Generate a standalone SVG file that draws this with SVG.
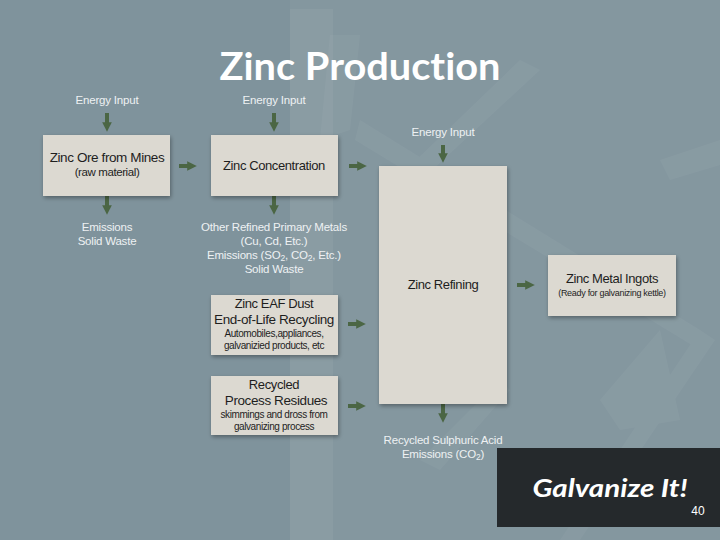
<svg xmlns="http://www.w3.org/2000/svg" width="720" height="540" viewBox="0 0 720 540">
<style>
.box{fill:#dcd9d1;filter:url(#sh)}
.bt{font-family:"Liberation Sans",Arial,sans-serif;fill:#1e1e1e;text-anchor:middle;letter-spacing:-0.4px}
.lb{font-family:"Liberation Sans",Arial,sans-serif;fill:#eef1f3;text-anchor:middle;font-size:11.5px;letter-spacing:-0.2px}
.ar{stroke:#4b6644;stroke-width:4;fill:none;marker-end:url(#ah)}
</style>
<defs>
<marker id="ah" viewBox="0 0 10 10" refX="5" refY="5" markerWidth="2.4" markerHeight="2.4" orient="auto" markerUnits="strokeWidth">
<path d="M0,0 L10,5 L0,10 z" fill="#4b6644"/>
</marker>
<filter id="sh" x="-10%" y="-10%" width="130%" height="130%">
<feGaussianBlur in="SourceAlpha" stdDeviation="2"/>
<feOffset dx="1" dy="2" result="b"/>
<feComponentTransfer><feFuncA type="linear" slope="0.35"/></feComponentTransfer>
<feMerge><feMergeNode/><feMergeNode in="SourceGraphic"/></feMerge>
</filter>
</defs>
<!-- background -->
<rect width="720" height="540" fill="#7f939c"/>
<rect x="290" y="0" width="430" height="540" fill="#ffffff" opacity="0.04"/>
<rect x="290" y="9" width="43" height="531" fill="#ffffff" opacity="0.05"/>
<g fill="#ffffff" opacity="0.035">
<polygon points="330,35 360,35 350,130 320,140"/>
<polygon points="360,120 700,330 700,350 355,140"/>
<polygon points="520,60 540,70 400,200 385,190"/>
<polygon points="660,160 720,140 720,165 670,180"/>
<polygon points="560,540 700,330 715,340 580,540"/>
<polygon points="420,460 500,380 510,390 440,470"/>
<polygon points="600,400 660,330 680,420 620,430"/>
</g>
<!-- title -->
<text x="360" y="80" font-family="Lato,'Open Sans',sans-serif" font-weight="bold" font-size="38" fill="#ffffff" text-anchor="middle" textLength="281" lengthAdjust="spacingAndGlyphs" style="font-variant-ligatures:none">Zinc Production</text>

<!-- connectors -->
<g id="connectors">
<line class="ar" x1="107" y1="113" x2="107" y2="127"/>
<line class="ar" x1="274" y1="113" x2="274" y2="127"/>
<line class="ar" x1="443" y1="145" x2="443" y2="158"/>
<line class="ar" x1="179" y1="166" x2="192" y2="166"/>
<line class="ar" x1="349" y1="166" x2="362" y2="166"/>
<line class="ar" x1="348" y1="324" x2="361" y2="324"/>
<line class="ar" x1="348" y1="406" x2="361" y2="406"/>
<line class="ar" x1="517" y1="285" x2="530" y2="285"/>
<line class="ar" x1="107" y1="196" x2="107" y2="210"/>
<line class="ar" x1="274" y1="196" x2="274" y2="210"/>
<line class="ar" x1="443" y1="404" x2="443" y2="418"/>
</g>

<g id="labels">
<text class="lb" x="107" y="104">Energy Input</text>
<text class="lb" x="274" y="104">Energy Input</text>
<text class="lb" x="443" y="136">Energy Input</text>
<text class="lb" x="107" y="231">Emissions</text>
<text class="lb" x="107" y="245">Solid Waste</text>
<text class="lb" x="274" y="231">Other Refined Primary Metals</text>
<text class="lb" x="274" y="245">(Cu, Cd, Etc.)</text>
<text class="lb" x="274" y="259">Emissions (SO<tspan font-size="8.5" dy="2">2</tspan><tspan dy="-2">, CO</tspan><tspan font-size="8.5" dy="2">2</tspan><tspan dy="-2">, Etc.)</tspan></text>
<text class="lb" x="274" y="273">Solid Waste</text>
<text class="lb" x="443" y="444">Recycled Sulphuric Acid</text>
<text class="lb" x="443" y="458">Emissions (CO<tspan font-size="8.5" dy="2">2</tspan><tspan dy="-2">)</tspan></text>
</g>

<g id="ore">
<rect class="box" x="43" y="135" width="127" height="61"/>
<text class="bt" x="107" y="162" font-size="13.5">Zinc Ore from Mines</text>
<text class="bt" x="107" y="176" font-size="11.5">(raw material)</text>
</g>
<g id="concentration">
<rect class="box" x="211" y="135" width="127" height="61"/>
<text class="bt" x="274" y="170" font-size="13">Zinc Concentration</text>
</g>
<g id="eaf">
<rect class="box" x="211" y="295" width="127" height="60"/>
<text class="bt" x="274" y="308" font-size="13">Zinc EAF Dust</text>
<text class="bt" x="274" y="324" font-size="13.5">End-of-Life Recycling</text>
<text class="bt" x="274" y="337" font-size="10">Automobiles,appliances,</text>
<text class="bt" x="274" y="349" font-size="10">galvanizied products, etc</text>
</g>
<g id="residues">
<rect class="box" x="211" y="376" width="127" height="59"/>
<text class="bt" x="274" y="389" font-size="13">Recycled</text>
<text class="bt" x="276" y="405" font-size="13.5">Process Residues</text>
<text class="bt" x="274" y="418" font-size="10">skimmings and dross from</text>
<text class="bt" x="274" y="430" font-size="10">galvanizing process</text>
</g>
<g id="refining">
<rect class="box" x="379" y="166" width="128" height="238"/>
<text class="bt" x="443" y="289" font-size="13">Zinc Refining</text>
</g>
<g id="ingots">
<rect class="box" x="548" y="255" width="128" height="61"/>
<text class="bt" x="612" y="283" font-size="13">Zinc Metal Ingots</text>
<text class="bt" x="612" y="296" font-size="9" style="letter-spacing:-0.3px">(Ready for galvanizing kettle)</text>
</g>

<g id="footer">
<rect x="497" y="448" width="223" height="79" fill="#25292c"/>
<text x="610" y="497" font-family="Lato,'Open Sans',sans-serif" font-style="italic" font-weight="bold" font-size="25" fill="#ffffff" text-anchor="middle" textLength="155" lengthAdjust="spacingAndGlyphs">Galvanize It!</text>
<text x="698" y="515" font-family="'Liberation Sans',sans-serif" font-size="12" fill="#ffffff" text-anchor="middle">40</text>
</g>
</svg>
